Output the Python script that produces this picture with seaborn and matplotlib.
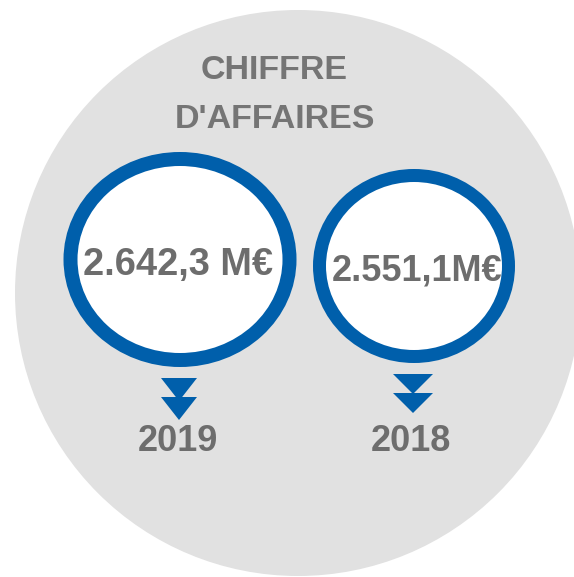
import matplotlib
matplotlib.use("Agg")
import matplotlib.pyplot as plt
from matplotlib.patches import Circle, Ellipse, Polygon
import seaborn as sns

# data
title_lines = ["CHIFFRE", "D'AFFAIRES"]
years = ["2019", "2018"]
amounts = ["2.642,3 M€", "2.551,1M€"]

# layout (pixel coords, y down)
ring_x = [180, 414]
ring_y = [259.5, 266]
ring_w = [219, 189]
ring_h = [201, 181]
ring_lw = [14, 13]
amount_y = [275, 280]
amount_x = [178, 417]
amount_size = [27.4, 26]
arrow_x = [179, 413]
arrow_top = [378, 374]
arrow_half = [18, 20]
arrow_h = [23, 20]
arrow_gap = [19, 19]
year_x = [178, 411]

BLUE = "#005fab"
GREY_TXT = "#6d6d6d"
GREY_BG = "#e1e1e1"

sns.set_theme(style="white")
plt.rcParams['font.family'] = ['Liberation Sans', 'DejaVu Sans']

fig = plt.figure(figsize=(5.74, 5.77), dpi=100)
ax = fig.add_axes([0, 0, 1, 1])
ax.set_xlim(0, 574)
ax.set_ylim(577, 0)
ax.axis("off")

px = 72 / 100

ax.add_patch(Circle((298, 293), 283, color=GREY_BG, lw=0))

for i in range(2):
    ax.add_patch(Ellipse((ring_x[i], ring_y[i]), ring_w[i], ring_h[i],
                         facecolor="white", edgecolor=BLUE, lw=ring_lw[i] * px))
    ax.text(amount_x[i], amount_y[i], amounts[i], ha="center", va="baseline",
            fontsize=amount_size[i], fontweight="bold", color=GREY_TXT)
    # double chevron arrow
    for k in range(2):
        top = arrow_top[i] + k * arrow_gap[i]
        ax.add_patch(Polygon([(arrow_x[i] - arrow_half[i], top),
                              (arrow_x[i] + arrow_half[i], top),
                              (arrow_x[i], top + arrow_h[i])],
                             closed=True, color=BLUE, lw=0))
    ax.text(year_x[i], 451, years[i], ha="center", va="baseline",
            fontsize=26, fontweight="bold", color=GREY_TXT)

ax.text(274, 79, title_lines[0], ha="center", va="baseline",
        fontsize=24.5, fontweight="bold", color="#757575")
ax.text(275, 128, title_lines[1], ha="center", va="baseline",
        fontsize=24.5, fontweight="bold", color="#757575")

fig.savefig("out.png", dpi=100, facecolor="white")
